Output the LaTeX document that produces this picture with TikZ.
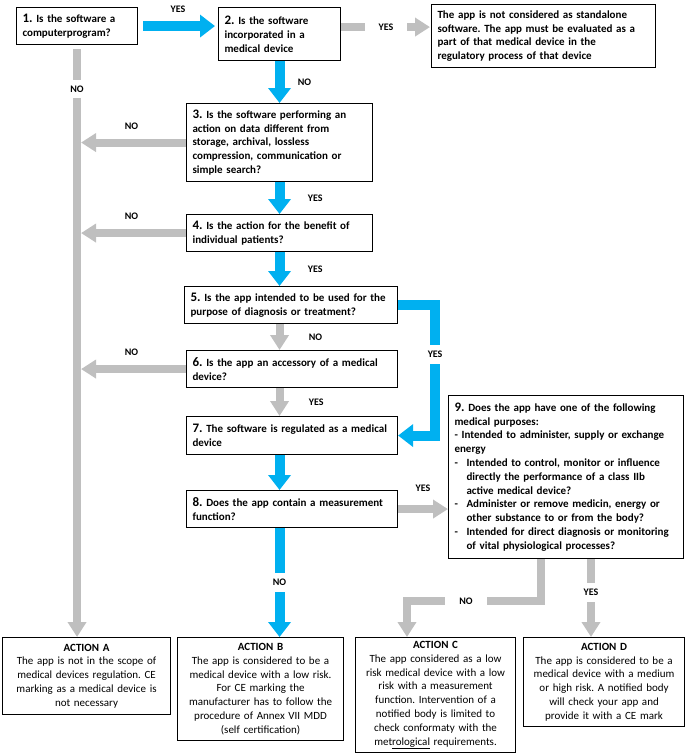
\documentclass[tikz,border=0pt]{standalone}
\usepackage{fontspec}
\setmainfont{Carlito}
\usetikzlibrary{arrows.meta, positioning}
\definecolor{flowblue}{RGB}{0, 176, 240}
\definecolor{flowgray}{RGB}{191, 191, 191}
\newcommand{\qnum}[1]{{\fontsize{13}{13.8}\selectfont #1}}
\newcommand{\dashitem}{\makebox[12pt][l]{-}}
\newcommand{\itemind}{\hspace*{12pt}}
\frenchspacing

\begin{document}
\begin{tikzpicture}[x=1pt, y=-1pt,
  question/.style={draw, line width=1.1pt, anchor=north west, align=left, inner xsep=6pt, inner ysep=3pt, font=\bfseries\fontsize{11}{13.8}\selectfont},
  action/.style={draw, line width=1.1pt, anchor=north west, align=center, inner xsep=4pt, inner ysep=3pt, font=\fontsize{11}{13.8}\selectfont},
  bluearrow/.style={draw=flowblue, line width=10pt, -{Triangle[length=15pt, width=22pt]}},
  greyarrow/.style={draw=flowgray, line width=8pt, -{Triangle[length=15pt, width=18pt]}},
  answer/.style={font=\bfseries\fontsize{10}{12}\selectfont},
  gapanswer/.style={answer, fill=white, inner xsep=14pt, inner ysep=6pt}
]
  \useasboundingbox (0,0) rectangle (685,756);

  % questions
  \node[question, text width=109pt, minimum height=37pt] (q1) at (16,7) {\qnum{1.} Is the software a\\computerprogram?};
  \node[question, text width=110pt, minimum height=53pt] (q2) at (218,7) {\qnum{2.} Is the software\\incorporated in a\\medical device};
  \node[question, text width=212pt, minimum height=63pt] (info) at (431,4) {The app is not considered as standalone\\software. The app must be evaluated as a\\part of that medical device in the\\regulatory process of that device};
  \node[question, text width=174pt, minimum height=78pt] (q3) at (186,103) {\qnum{3.} Is the software performing\ an\\action on data different from\\storage, archival, lossless\\compression, communication or\\simple search?};
  \node[question, text width=174pt, minimum height=37pt] (q4) at (186,214) {\qnum{4.} Is the action for the benefit of\\individual patients?};
  \node[question, text width=201pt, minimum height=37pt] (q5) at (184,286) {\qnum{5.} Is the app intended to be used for the\\purpose of diagnosis or treatment?};
  \node[question, text width=199pt, minimum height=37pt] (q6) at (186,350) {\qnum{6.} Is the app an accessory of a medical\\device?};
  \node[question, text width=199pt, minimum height=38pt] (q7) at (186,416) {\qnum{7.} The software is regulated as a medical\\device};
  \node[question, text width=199pt, minimum height=37pt] (q8) at (186,490) {\qnum{8.} Does the app contain a measurement\\function?};
  \node[question, text width=223pt, minimum height=163pt] (q9) at (448,395) {\qnum{9.} Does the app have one of the following\\
    medical purposes:\\
    - Intended to administer, supply or exchange\\
    energy\\
    \dashitem Intended to control, monitor or influence\\
    \itemind directly the performance of a class IIb\\
    \itemind active medical device?\\
    \dashitem Administer or remove medicin, energy or\\
    \itemind other substance to or from the body?\\
    \dashitem Intended for direct diagnosis or monitoring\\
    \itemind of vital physiological processes?};

  % actions
  \node[action, text width=160pt, minimum height=77pt] (actA) at (2,637) {\textbf{ACTION A}\\The app is not in the scope of\\medical devices regulation. CE\\marking as a medical device is\\not necessary};
  \node[action, text width=158pt, minimum height=103pt] (actB) at (177,637) {\textbf{ACTION B}\\The app is considered to be a\\medical device with a low risk.\\For CE marking the\\manufacturer has to follow the\\procedure of Annex VII MDD\\(self certification)};
  \node[action, text width=152pt, minimum height=115pt] (actC) at (355,637) {\textbf{ACTION C}\\The app considered as a low\\risk medical device with a low\\risk with a measurement\\function. Intervention of a\\notified body is limited to\\check conformaty with the\\met\underline{rological} requirements.};
  \node[action, text width=153pt, minimum height=89pt] (actD) at (523,637) {\textbf{ACTION D}\\The app is considered to be a\\medical device with a medium\\or high risk. A notified body\\will check your app and\\provide it with a CE mark};

  \coordinate (q2out) at ([yshift=7pt]q2.east);
  \coordinate (q9left) at ([xshift=93pt]q9.south west);
  \coordinate (q9right) at ([xshift=143pt]q9.south west);
  \coordinate (cjoin) at (407,601);

  \draw[bluearrow, shorten <=5pt, shorten >=3pt] (q1.east) -- node[answer, above=5pt] {YES} (q1.east -| q2.west);
  \draw[greyarrow, shorten >=1pt] (q2out) -- node[gapanswer] {YES} (q2out -| info.west);
  \draw[bluearrow] (q2.south) -- node[answer, right=10pt] {NO} (q3.north);
  \draw[bluearrow] (q3.south) -- node[answer, right=20pt] {YES} (q4.north);
  \draw[bluearrow] (q4.south) -- node[answer, right=20pt] {YES} (q4.south |- q5.north);
  \draw[greyarrow] (q5.south -| q4.south) -- node[answer, right=22pt] {NO} (q6.north -| q4.south);
  \draw[greyarrow] (q6.south -| q4.south) -- node[answer, right=22pt] {YES} (q7.north -| q4.south);
  \draw[bluearrow] (q7.south -| q4.south) -- (q8.north -| q4.south);
  \draw[bluearrow] (q8.south -| q4.south) -- node[gapanswer] {NO} (actB.north -| q4.south);
  \draw[bluearrow] (q5.east) -- ++(37,0) |- node[gapanswer, pos=0.19] {YES} (q7.east);
  \draw[greyarrow] (q8.east) -- node[answer, above=10pt] {YES} (q8.east -| q9.west);

  % NO branch to action A
  \draw[greyarrow, shorten <=4pt] (q1.south) -- node[gapanswer, pos=0.074] {NO} (q1.south |- actA.north);
  \draw[greyarrow, shorten >=4pt] (q3.west) -- node[answer, above=6pt] {NO} (q3.west -| q1.south);
  \draw[greyarrow, shorten >=4pt] (q4.west) -- node[answer, above=6pt] {NO} (q4.west -| q1.south);
  \draw[greyarrow, shorten >=4pt] (q6.west) -- node[answer, above=6pt] {NO} (q6.west -| q1.south);

  \draw[greyarrow] (q9left) |- node[gapanswer, pos=0.78] {NO} (cjoin) -- (cjoin |- actC.north);
  \draw[greyarrow] (q9right) -- node[gapanswer, pos=0.43] {YES} (q9right |- actD.north);
\end{tikzpicture}
\end{document}
